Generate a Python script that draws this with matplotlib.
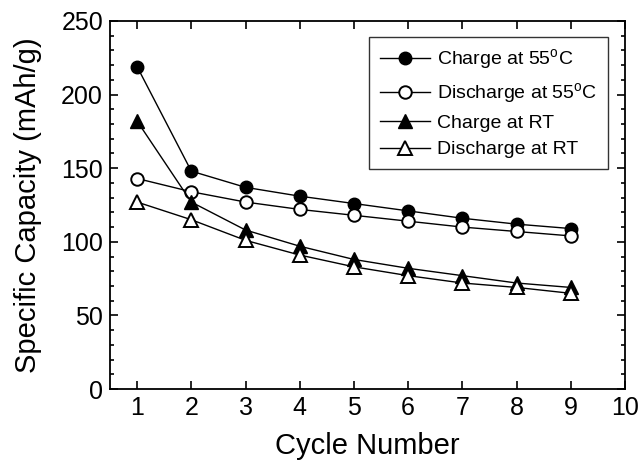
import matplotlib
matplotlib.use('Agg')
import matplotlib.pyplot as plt
from matplotlib.ticker import MultipleLocator

plt.rcParams['font.family'] = ['Liberation Sans', 'DejaVu Sans']
plt.rcParams['mathtext.fontset'] = 'custom'
plt.rcParams['mathtext.rm'] = 'Liberation Sans'

# capacity per cycle (mAh/g)
cycles = [1, 2, 3, 4, 5, 6, 7, 8, 9]
charge_55 = [219, 148, 137, 131, 126, 121, 116, 112, 109]
discharge_55 = [143, 134, 127, 122, 118, 114, 110, 107, 104]
charge_rt = [182, 127, 108, 97, 88, 82, 77, 72, 69]
discharge_rt = [127, 115, 101, 91, 83, 77, 72, 69, 65]

fig = plt.figure(figsize=(6.41, 4.65), dpi=100)
ax = fig.add_axes([110 / 641, 1 - 389 / 465, 515 / 641, 368 / 465])

ms = 9
ax.plot(cycles, charge_55, '-o', color='black', mfc='black', ms=ms, lw=1, label='Charge at 55$^{\\rm o}$C')
ax.plot(cycles, discharge_55, '-o', color='black', mfc='white', ms=ms, mew=1.4, lw=1, label='Discharge at 55$^{\\rm o}$C')
ax.plot(cycles, charge_rt, '-^', color='black', mfc='black', ms=ms + 1, lw=1, label='Charge at RT')
ax.plot(cycles, discharge_rt, '-^', color='black', mfc='white', ms=ms + 1, mew=1.4, lw=1, label='Discharge at RT')

ax.set_xlim(0.5, 10)
ax.set_ylim(0, 250)
ax.xaxis.set_major_locator(MultipleLocator(1))
ax.yaxis.set_major_locator(MultipleLocator(50))
ax.yaxis.set_minor_locator(MultipleLocator(10))
ax.tick_params(which='both', direction='in', top=True, right=True, width=1.2)
ax.tick_params(which='major', length=6, labelsize=18)
ax.tick_params(which='minor', length=3)
ax.tick_params(axis='x', pad=5)
ax.tick_params(axis='y', pad=5)
for s in ax.spines.values():
    s.set_linewidth(1.3)

ax.set_xlabel('Cycle Number', fontsize=21, labelpad=9)
ax.set_ylabel('Specific Capacity (mAh/g)', fontsize=21, labelpad=14)

leg = ax.legend(loc='upper right', bbox_to_anchor=(0.967, 0.957), fontsize=14,
                frameon=True, fancybox=False, edgecolor='black', handlelength=2.6,
                handletextpad=0.35, labelspacing=0.45, borderpad=0.55, borderaxespad=0)
leg.get_frame().set_linewidth(1.0)

fig.savefig('out.png', dpi=100)
